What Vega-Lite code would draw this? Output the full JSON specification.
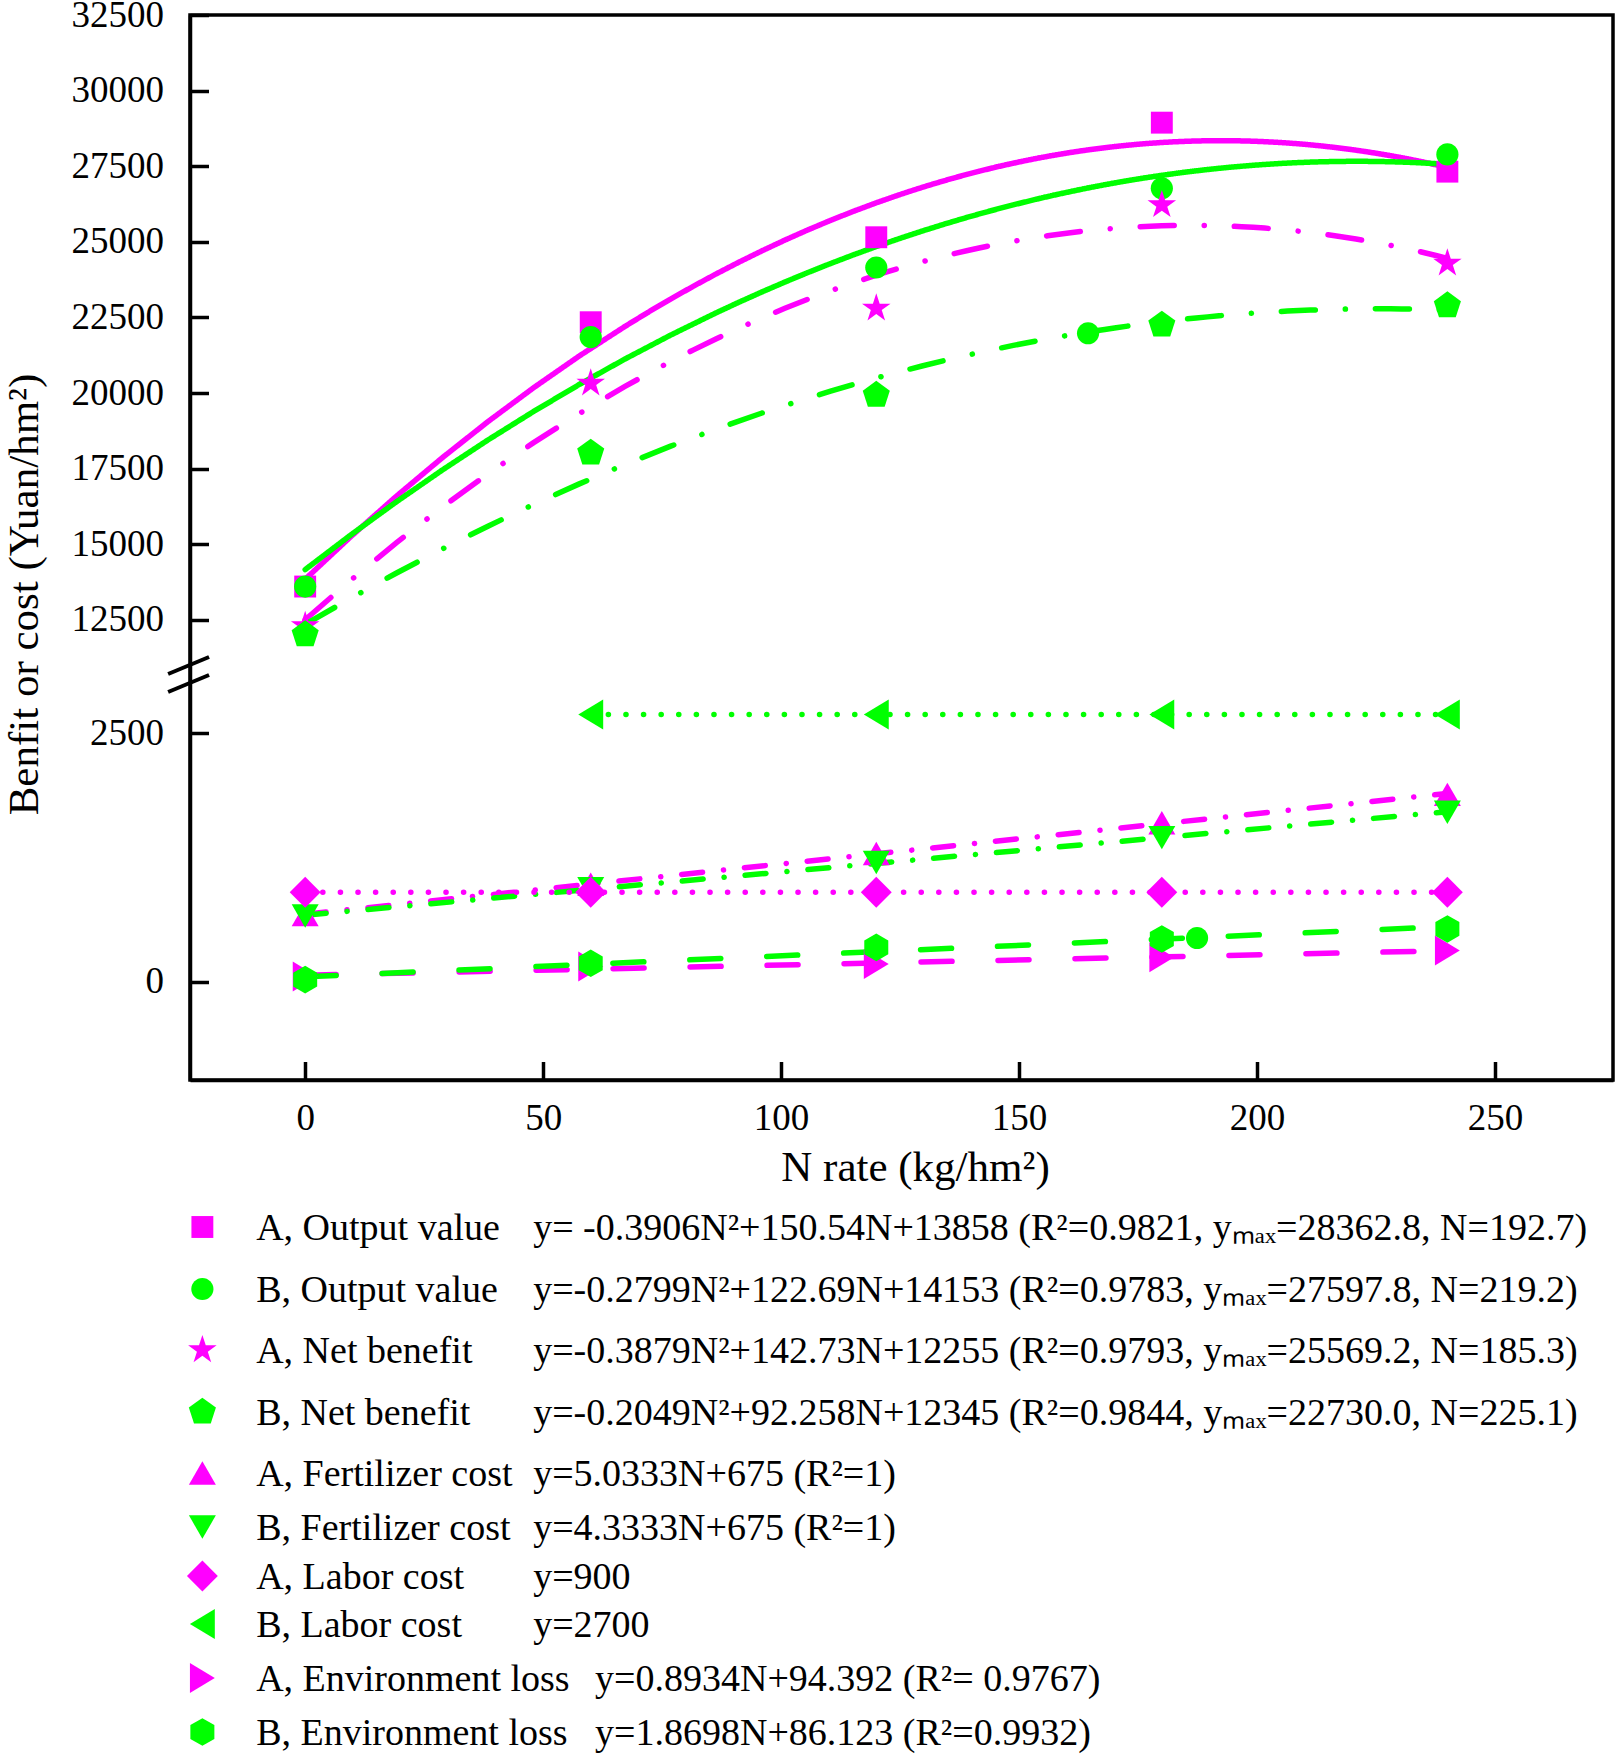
{
  "$schema": "https://vega.github.io/schema/vega-lite/v6.json",
  "width": 1423,
  "height": 1065,
  "autosize": "none",
  "padding": {"left": 190, "top": 15, "right": 8, "bottom": 676},
  "background": "white",
  "config": {
    "font": "Liberation Serif",
    "view": {"stroke": "black", "strokeWidth": 3.5},
    "axis": {
      "grid": false,
      "domainColor": "black",
      "domainWidth": 3.5,
      "tickColor": "black",
      "tickWidth": 3.5,
      "tickSize": -18.5,
      "labelFont": "Liberation Serif",
      "labelFontSize": 37,
      "labelColor": "black",
      "labelFlush": false,
      "labelOverlap": false,
      "titleFont": "Liberation Serif",
      "titleFontSize": 43,
      "titleFontWeight": "normal",
      "titleColor": "black"
    }
  },
  "datasets": {
    "pts": [
      {"series": "A, Output value", "N": 0, "value": 13600},
      {"series": "A, Output value", "N": 60, "value": 22340},
      {"series": "A, Output value", "N": 120, "value": 25150},
      {"series": "A, Output value", "N": 180, "value": 28940},
      {"series": "A, Output value", "N": 240, "value": 27320},
      {"series": "B, Output value", "N": 0, "value": 13600},
      {"series": "B, Output value", "N": 60, "value": 21850},
      {"series": "B, Output value", "N": 120, "value": 24150},
      {"series": "B, Output value", "N": 180, "value": 26770},
      {"series": "B, Output value", "N": 240, "value": 27890},
      {"series": "A, Net benefit", "N": 0, "value": 12300},
      {"series": "A, Net benefit", "N": 60, "value": 20320},
      {"series": "A, Net benefit", "N": 120, "value": 22800},
      {"series": "A, Net benefit", "N": 180, "value": 26220},
      {"series": "A, Net benefit", "N": 240, "value": 24290},
      {"series": "B, Net benefit", "N": 0, "value": 12010},
      {"series": "B, Net benefit", "N": 60, "value": 18020},
      {"series": "B, Net benefit", "N": 120, "value": 19930},
      {"series": "B, Net benefit", "N": 180, "value": 22250},
      {"series": "B, Net benefit", "N": 240, "value": 22890},
      {"series": "A, Fertilizer cost", "N": 0, "value": 675},
      {"series": "A, Fertilizer cost", "N": 60, "value": 980},
      {"series": "A, Fertilizer cost", "N": 120, "value": 1290},
      {"series": "A, Fertilizer cost", "N": 180, "value": 1600},
      {"series": "A, Fertilizer cost", "N": 240, "value": 1885},
      {"series": "B, Fertilizer cost", "N": 0, "value": 660},
      {"series": "B, Fertilizer cost", "N": 60, "value": 935},
      {"series": "B, Fertilizer cost", "N": 120, "value": 1200},
      {"series": "B, Fertilizer cost", "N": 180, "value": 1450},
      {"series": "B, Fertilizer cost", "N": 240, "value": 1705},
      {"series": "A, Labor cost", "N": 0, "value": 900},
      {"series": "A, Labor cost", "N": 60, "value": 900},
      {"series": "A, Labor cost", "N": 120, "value": 900},
      {"series": "A, Labor cost", "N": 180, "value": 900},
      {"series": "A, Labor cost", "N": 240, "value": 900},
      {"series": "B, Labor cost", "N": 60, "value": 2690},
      {"series": "B, Labor cost", "N": 120, "value": 2690},
      {"series": "B, Labor cost", "N": 180, "value": 2690},
      {"series": "B, Labor cost", "N": 240, "value": 2690},
      {"series": "A, Environment loss", "N": 0, "value": 50},
      {"series": "A, Environment loss", "N": 60, "value": 151},
      {"series": "A, Environment loss", "N": 120, "value": 178},
      {"series": "A, Environment loss", "N": 180, "value": 245},
      {"series": "A, Environment loss", "N": 240, "value": 312},
      {"series": "B, Environment loss", "N": 0, "value": 20},
      {"series": "B, Environment loss", "N": 60, "value": 184},
      {"series": "B, Environment loss", "N": 120, "value": 345},
      {"series": "B, Environment loss", "N": 180, "value": 429},
      {"series": "B, Environment loss", "N": 240, "value": 530}
    ],
    "stray": [
      {"series": "B, Output value", "N": 164.5, "value": 21976},
      {"series": "B, Output value", "N": 187.4, "value": 439}
    ],
    "legend": [
      {"row": 1, "series": "A, Output value", "eq": "y= -0.3906N²+150.54N+13858 (R²=0.9821, yₘₐₓ=28362.8, N=192.7)"},
      {"row": 2, "series": "B, Output value", "eq": "y=-0.2799N²+122.69N+14153 (R²=0.9783, yₘₐₓ=27597.8, N=219.2)"},
      {"row": 3, "series": "A, Net benefit", "eq": "y=-0.3879N²+142.73N+12255 (R²=0.9793, yₘₐₓ=25569.2, N=185.3)"},
      {"row": 4, "series": "B, Net benefit", "eq": "y=-0.2049N²+92.258N+12345 (R²=0.9844, yₘₐₓ=22730.0, N=225.1)"},
      {"row": 5, "series": "A, Fertilizer cost", "eq": "y=5.0333N+675 (R²=1)"},
      {"row": 6, "series": "B, Fertilizer cost", "eq": "y=4.3333N+675 (R²=1)"},
      {"row": 7, "series": "A, Labor cost", "eq": "y=900"},
      {"row": 8, "series": "B, Labor cost", "eq": "y=2700"},
      {"row": 9, "series": "A, Environment loss", "eq": "y=0.8934N+94.392 (R²= 0.9767)"},
      {"row": 10, "series": "B, Environment loss", "eq": "y=1.8698N+86.123 (R²=0.9932)"}
    ]
  },
  "resolve": {"scale": {"y": "independent"}},
  "layer": [
    {
      "layer": [
        {
          "data": {"name": "pts"},
          "transform": [
            {"filter": {"field": "series", "oneOf": ["A, Output value", "B, Output value", "A, Net benefit", "B, Net benefit"]}},
            {"regression": "value", "on": "N", "groupby": ["series"], "method": "poly", "order": 2, "extent": [0, 240]}
          ],
          "mark": {"type": "line", "strokeWidth": 5.5, "strokeCap": "round"},
          "encoding": {
            "x": {
              "field": "N",
              "type": "quantitative",
              "scale": {"domain": [-24.2, 274.8], "nice": false, "zero": false},
              "axis": {
                "values": [0, 50, 100, 150, 200, 250],
                "labelPadding": 68,
                "labelBaseline": "alphabetic",
                "title": "N rate (kg/hm²)",
                "titleX": 725,
                "titleY": 100,
                "titleAlign": "center",
                "titleBaseline": "alphabetic"
              }
            },
            "y": {
              "field": "value",
              "type": "quantitative",
              "scale": {"domain": [-991, 2886, 11336, 32500], "range": [1065, 680, 640, 0], "nice": false, "zero": false},
              "axis": {
                "values": [0, 2500, 12500, 15000, 17500, 20000, 22500, 25000, 27500, 30000, 32500],
                "format": "d",
                "labelPadding": 45,
                "labelBaseline": "middle",
                "title": "Benfit or cost (Yuan/hm²)",
                "titleAngle": -90,
                "titleX": -153,
                "titleY": 579,
                "titleAlign": "center",
                "titleBaseline": "alphabetic"
              }
            },
            "color": {
              "field": "series",
              "type": "nominal",
              "scale": {
                "domain": ["A, Output value", "B, Output value", "A, Net benefit", "B, Net benefit", "A, Fertilizer cost", "B, Fertilizer cost", "A, Labor cost", "B, Labor cost", "A, Environment loss", "B, Environment loss"],
                "range": ["#FF00FF", "#00FF00", "#FF00FF", "#00FF00", "#FF00FF", "#00FF00", "#FF00FF", "#00FF00", "#FF00FF", "#00FF00"]
              },
              "legend": null
            },
            "strokeDash": {
              "field": "series",
              "type": "nominal",
              "scale": {
                "domain": ["A, Output value", "B, Output value", "A, Net benefit", "B, Net benefit", "A, Fertilizer cost", "B, Fertilizer cost", "A, Labor cost", "B, Labor cost", "A, Environment loss", "B, Environment loss"],
                "range": [[1, 0], [1, 0], [34, 30, 0.1, 30], [34, 30, 0.1, 30], [21, 21, 0.1, 21], [21, 21, 0.1, 21], [0.1, 17.5], [0.1, 17.5], [31, 46], [31, 46]]
              },
              "legend": null
            }
          }
        },
        {
          "data": {"name": "pts"},
          "transform": [
            {"filter": {"field": "series", "oneOf": ["A, Fertilizer cost", "B, Fertilizer cost", "A, Environment loss", "B, Environment loss"]}},
            {"regression": "value", "on": "N", "groupby": ["series"], "method": "linear", "extent": [0, 240]}
          ],
          "mark": {"type": "line", "strokeWidth": 5.5, "strokeCap": "round"},
          "encoding": {
            "x": {"field": "N", "type": "quantitative"},
            "y": {"field": "value", "type": "quantitative"},
            "color": {"field": "series", "type": "nominal", "legend": null},
            "strokeDash": {"field": "series", "type": "nominal", "legend": null}
          }
        },
        {
          "data": {"name": "pts"},
          "transform": [
            {"filter": {"field": "series", "oneOf": ["A, Labor cost", "B, Labor cost"]}}
          ],
          "mark": {"type": "line", "strokeWidth": 5.5, "strokeCap": "round"},
          "encoding": {
            "x": {"field": "N", "type": "quantitative"},
            "y": {"field": "value", "type": "quantitative"},
            "color": {"field": "series", "type": "nominal", "legend": null},
            "strokeDash": {"field": "series", "type": "nominal", "legend": null}
          }
        },
        {
          "data": {"name": "pts"},
          "mark": {"type": "point", "filled": true, "opacity": 1, "size": 900, "strokeWidth": 0},
          "encoding": {
            "x": {"field": "N", "type": "quantitative"},
            "y": {"field": "value", "type": "quantitative"},
            "color": {"field": "series", "type": "nominal", "legend": null},
            "shape": {
              "field": "series",
              "type": "nominal",
              "scale": {
                "domain": ["A, Output value", "B, Output value", "A, Net benefit", "B, Net benefit", "A, Fertilizer cost", "B, Fertilizer cost", "A, Labor cost", "B, Labor cost", "A, Environment loss", "B, Environment loss"],
                "range": [
                  "M-0.73,-0.73L0.73,-0.73L0.73,0.73L-0.73,0.73Z",
                  "M-0.74,0A0.74,0.74,0,1,1,0.74,0A0.74,0.74,0,1,1,-0.74,0Z",
                  "M0,-1L0.225,-0.309L0.951,-0.309L0.363,0.118L0.588,0.809L0,0.382L-0.588,0.809L-0.363,0.118L-0.951,-0.309L-0.225,-0.309Z",
                  "M0,-0.95L0.903,-0.294L0.559,0.769L-0.559,0.769L-0.903,-0.294Z",
                  "M0,-0.78L0.9,0.78L-0.9,0.78Z",
                  "M0,0.78L0.9,-0.78L-0.9,-0.78Z",
                  "M0,-1.03L1.03,0L0,1.03L-1.03,0Z",
                  "M-0.83,0L0.83,-1L0.83,1Z",
                  "M0.83,0L-0.83,-1L-0.83,1Z",
                  "M0,-0.92L0.8,-0.46L0.8,0.46L0,0.92L-0.8,0.46L-0.8,-0.46Z"
                ]
              },
              "legend": null
            }
          }
        },
        {
          "data": {"name": "stray"},
          "mark": {"type": "point", "filled": true, "opacity": 1, "size": 900, "strokeWidth": 0},
          "encoding": {
            "x": {"field": "N", "type": "quantitative"},
            "y": {"field": "value", "type": "quantitative"},
            "color": {"field": "series", "type": "nominal", "legend": null},
            "shape": {"field": "series", "type": "nominal", "legend": null}
          }
        },
        {
          "data": {"values": [{}]},
          "mark": {"type": "rule", "color": "black", "strokeWidth": 4},
          "encoding": {
            "x": {"datum": -28.8},
            "y": {"datum": 7322},
            "x2": {"datum": -20.2},
            "y2": {"datum": 10913}
          }
        },
        {
          "data": {"values": [{}]},
          "mark": {"type": "rule", "color": "black", "strokeWidth": 4},
          "encoding": {
            "x": {"datum": -28.8},
            "y": {"datum": 3520},
            "x2": {"datum": -20.2},
            "y2": {"datum": 7111}
          }
        }
      ]
    },
    {
      "data": {"name": "legend"},
      "layer": [
        {
          "mark": {"type": "point", "filled": true, "opacity": 1, "size": 900, "strokeWidth": 0},
          "encoding": {
            "x": {"datum": -21.6},
            "y": {
              "field": "row",
              "type": "quantitative",
              "scale": {"domain": [1, 2, 3, 4, 5, 6, 7, 8, 9, 10], "range": [1212, 1274, 1335, 1397, 1458, 1512, 1561, 1609, 1663, 1717], "nice": false, "zero": false},
              "axis": null
            },
            "color": {"field": "series", "type": "nominal", "legend": null},
            "shape": {"field": "series", "type": "nominal", "legend": null}
          }
        },
        {
          "mark": {"type": "text", "align": "left", "baseline": "alphabetic", "dy": 13, "fontSize": 38, "font": "Liberation Serif", "color": "black"},
          "encoding": {
            "x": {"datum": -10.3},
            "y": {"field": "row", "type": "quantitative"},
            "text": {"field": "series"}
          }
        },
        {
          "transform": [{"filter": "datum.row <= 8"}],
          "mark": {"type": "text", "align": "left", "baseline": "alphabetic", "dy": 13, "fontSize": 38, "font": "Liberation Serif", "color": "black"},
          "encoding": {
            "x": {"datum": 47.9},
            "y": {"field": "row", "type": "quantitative"},
            "text": {"field": "eq"}
          }
        },
        {
          "transform": [{"filter": "datum.row > 8"}],
          "mark": {"type": "text", "align": "left", "baseline": "alphabetic", "dy": 13, "fontSize": 38, "font": "Liberation Serif", "color": "black"},
          "encoding": {
            "x": {"datum": 60.9},
            "y": {"field": "row", "type": "quantitative"},
            "text": {"field": "eq"}
          }
        }
      ]
    }
  ]
}
